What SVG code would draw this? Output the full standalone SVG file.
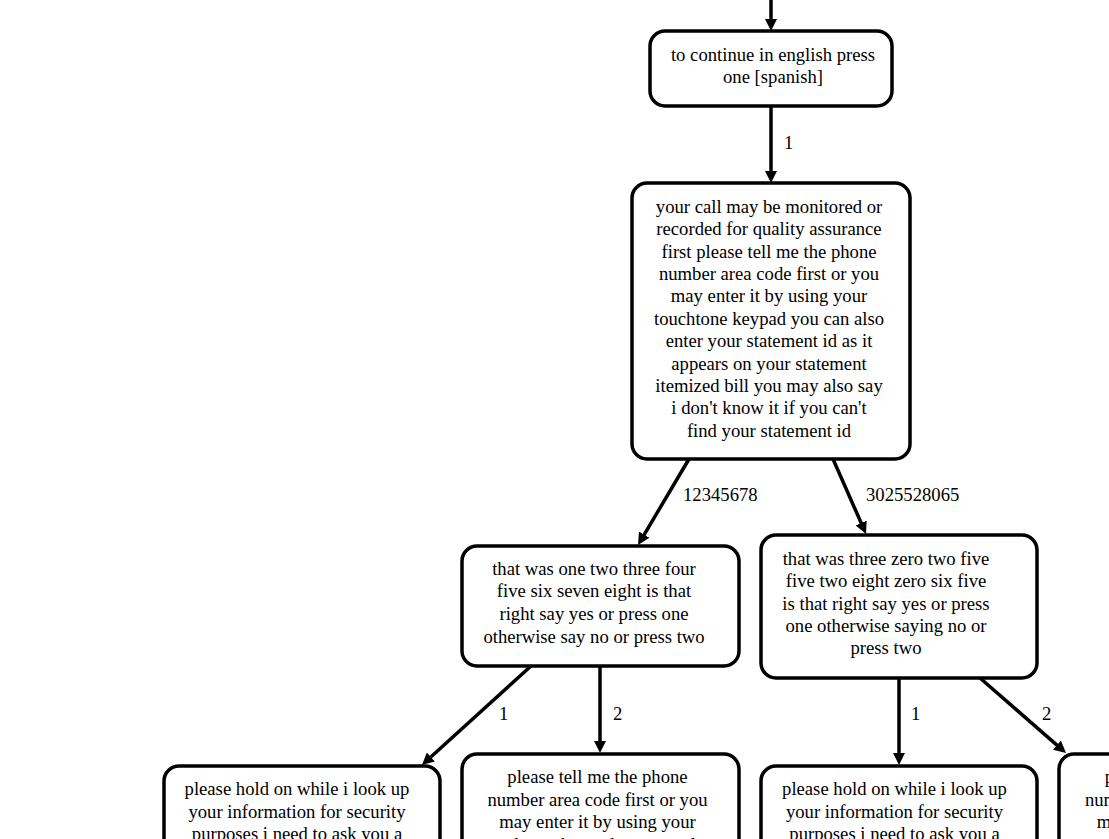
<svg xmlns="http://www.w3.org/2000/svg" width="1109" height="839" viewBox="0 0 1109 839">
<style>
.node rect{fill:#fff;stroke:#000;stroke-width:3.5}
text{font-family:"Liberation Serif","Times New Roman",serif;font-size:18.67px;fill:#000}
.node text{text-anchor:middle}
.edges path{fill:none;stroke:#000;stroke-width:3.5}
</style>
<defs>
<marker id="arr" markerUnits="userSpaceOnUse" markerWidth="12" markerHeight="12" refX="6" refY="6" orient="auto" viewBox="0 0 12 12">
<path d="M0,0 L12,6 L0,12 z" fill="#000"/>
</marker>
</defs>
<rect width="1109" height="839" fill="#fff"/>
<g class="edges">
<path d="M771,0 L771,25" marker-end="url(#arr)"/>
<path d="M771,106 L771,177" marker-end="url(#arr)"/>
<path d="M689,459 L641.1,539.8" marker-end="url(#arr)"/>
<path d="M833,459 L863.6,528.5" marker-end="url(#arr)"/>
<path d="M531,666 L426.4,761" marker-end="url(#arr)"/>
<path d="M600,666 L600,747" marker-end="url(#arr)"/>
<path d="M899,678 L899,759" marker-end="url(#arr)"/>
<path d="M980,678 L1061.5,749.1" marker-end="url(#arr)"/>
<text x="784" y="149">1</text>
<text x="683" y="501">12345678</text>
<text x="866" y="501">3025528065</text>
<text x="499" y="720">1</text>
<text x="613" y="720">2</text>
<text x="911" y="720">1</text>
<text x="1042" y="720">2</text>
</g>
<g id="n1" class="node">
<rect x="650" y="31" width="242" height="75" rx="15"/>
<text x="773" y="61">to continue in english press</text>
<text x="773" y="83">one [spanish]</text>
</g>
<g id="n2" class="node">
<rect x="632" y="183" width="278" height="276" rx="15"/>
<text x="769" y="213">your call may be monitored or</text>
<text x="769" y="235">recorded for quality assurance</text>
<text x="769" y="258">first please tell me the phone</text>
<text x="769" y="280">number area code first or you</text>
<text x="769" y="302">may enter it by using your</text>
<text x="769" y="325">touchtone keypad you can also</text>
<text x="769" y="347">enter your statement id as it</text>
<text x="769" y="370">appears on your statement</text>
<text x="769" y="392">itemized bill you may also say</text>
<text x="769" y="414">i don't know it if you can't</text>
<text x="769" y="437">find your statement id</text>
</g>
<g id="n3" class="node">
<rect x="462" y="546" width="277" height="120" rx="15"/>
<text x="594" y="575">that was one two three four</text>
<text x="594" y="597">five six seven eight is that</text>
<text x="594" y="620">right say yes or press one</text>
<text x="594" y="643">otherwise say no or press two</text>
</g>
<g id="n4" class="node">
<rect x="761" y="535" width="276" height="143" rx="15"/>
<text x="886" y="565">that was three zero two five</text>
<text x="886" y="587">five two eight zero six five</text>
<text x="886" y="610">is that right say yes or press</text>
<text x="886" y="632">one otherwise saying no or</text>
<text x="886" y="654">press two</text>
</g>
<g id="n5" class="node">
<rect x="164" y="766" width="276" height="120" rx="15"/>
<text x="297" y="795">please hold on while i look up</text>
<text x="297" y="818">your information for security</text>
<text x="297" y="840">purposes i need to ask you a</text>
</g>
<g id="n6" class="node">
<rect x="462" y="754" width="277" height="140" rx="15"/>
<text x="597.5" y="783">please tell me the phone</text>
<text x="597.5" y="806">number area code first or you</text>
<text x="597.5" y="828">may enter it by using your</text>
<text x="597.5" y="851">touchtone keypad you can also</text>
</g>
<g id="n7" class="node">
<rect x="761" y="766" width="276" height="120" rx="15"/>
<text x="894.5" y="795">please hold on while i look up</text>
<text x="894.5" y="818">your information for security</text>
<text x="894.5" y="840">purposes i need to ask you a</text>
</g>
<g id="n8" class="node">
<rect x="1059" y="754" width="277" height="140" rx="15"/>
<text x="1195" y="783">please tell me the phone</text>
<text x="1195" y="806">number area code first or you</text>
<text x="1195" y="828">may enter it by using your</text>
</g>
</svg>
